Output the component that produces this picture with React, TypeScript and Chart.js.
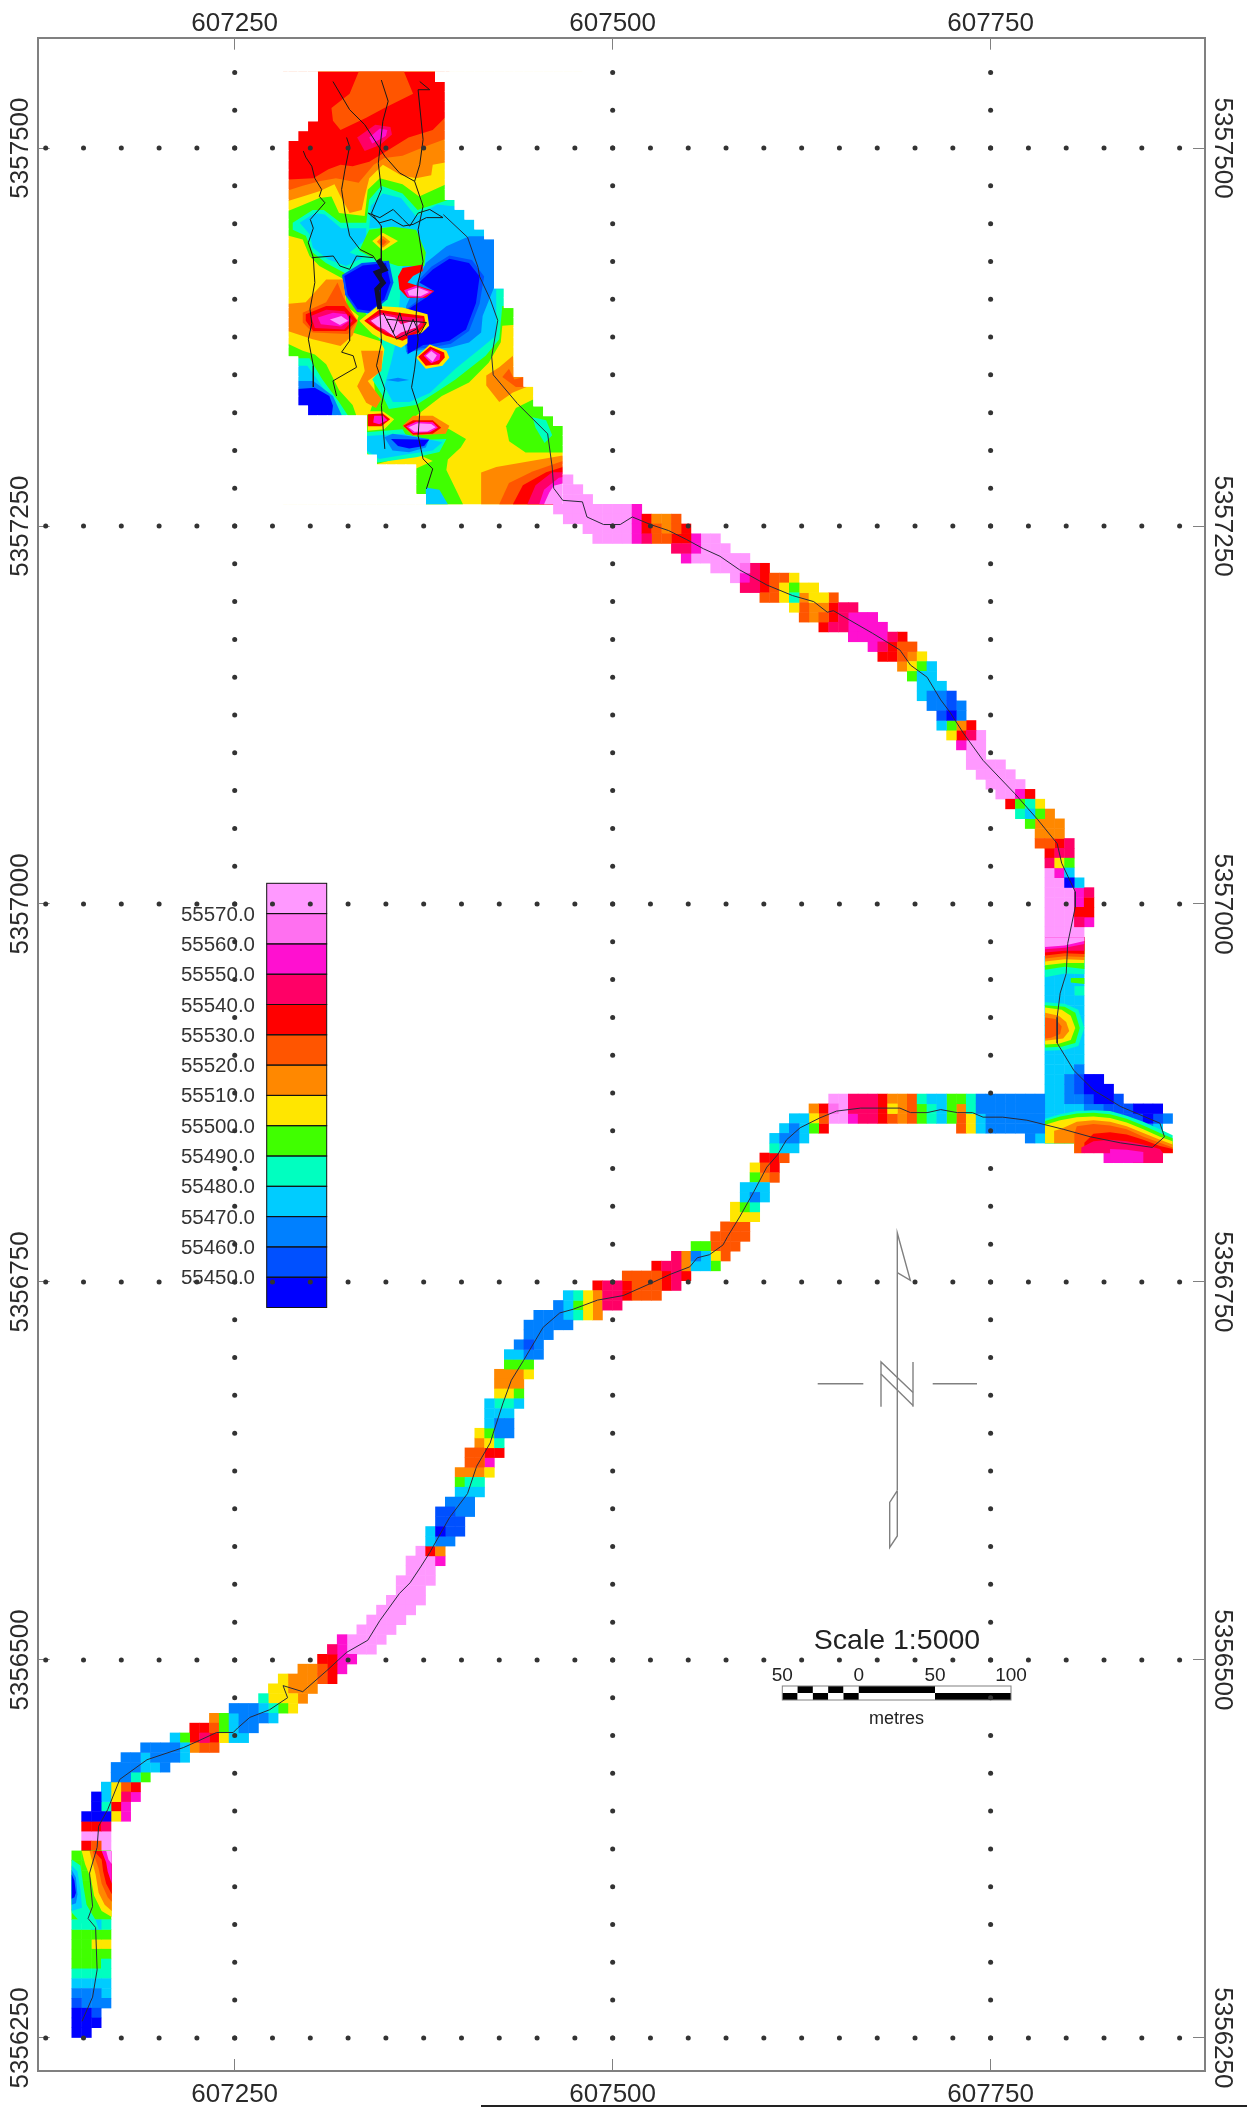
import React, { useEffect, useRef } from "react";
import { Chart, registerables } from "chart.js";

Chart.register(...registerables);

// ---- map frame (easting / northing) ----
const EAST_BASE = 607000;
const NORTH_BASE = 5356000;
const xRange = [607119.7, 607891.8];
const yRange = [5356228.1, 5357573];
const xTickValues = [607250, 607500, 607750];
const yTickValues = [5356250, 5356500, 5356750, 5357000, 5357250, 5357500];

// survey stations: offsets (m) from the bases
const stationEastings = [125,150,175,200,225,250,275,300,325,350,375,400,425,450,475,500,525,550,575,600,625,650,675,700,725,750,775,800,825,850,875];
const stationNorthings = [250,275,300,325,350,375,400,425,450,475,500,525,550,575,600,625,650,675,700,725,750,775,800,825,850,875,900,925,950,975,1000,1025,1050,1075,1100,1125,1150,1175,1200,1225,1250,1275,1300,1325,1350,1375,1400,1425,1450,1475,1500,1525,1550];
const lineEastings = [250, 500, 750];
const lineNorthings = [250, 500, 750, 1000, 1250, 1500];

// ---- colour scale ----
const legendLabels = ["55570.0","55560.0","55550.0","55540.0","55530.0","55520.0","55510.0","55500.0","55490.0","55480.0","55470.0","55460.0","55450.0"];
const legendBands = ["n","m","l","k","j","i","h","g","f","e","d","c","b","a"];
const bandColors: Record<string, string> = {
  a: "#0000FF", b: "#0050FF", c: "#0080FF", d: "#00CCFF", e: "#00FFC0", f: "#40FF00", g: "#FFE600",
  h: "#FF8800", i: "#FF5500", j: "#FF0000", k: "#FF0066", l: "#FF10D0", m: "#FF70F0", n: "#FF99FF",
};

// ---- gridded cells: [row, first column, band per column] ----
const CELL_EAST = 145.47;
const CELL_NORTH = 1547.23;
const CELL_SIZE = 6.5014;

const blockSpans: [number, number][] = [
  [25,36],[25,37],[25,37],[25,37],[25,37],[24,37],[23,37],[22,37],[22,37],[22,37],[22,37],[22,37],[22,37],[22,38],[22,39],[22,40],[22,41],[22,42],[22,42],[22,42],[22,42],[22,42],[22,43],[22,43],[22,44],[22,44],[22,44],[22,44],[22,44],[23,44],[23,44],[23,45],[23,46],[23,46],[24,47],[30,48],[30,49],[30,49],[30,49],[31,49],[35,49],[35,49],[35,49],[36,49],
];

const cellsNorthEast: [number, number, string][] = [
  [41,50,"n"],[42,50,"nn"],[43,50,"nnn"],[44,49,"nnnnnnnnl"],[45,50,"nnnnnnnljhhi"],[46,52,"nnnnnljihij"],
  [47,53,"nnnnlkiijjlnn"],[48,61,"kklnnn"],[49,62,"lnnnnnn"],[50,65,"nnnmkj"],[51,67,"nlkjiig"],[52,68,"kkjigfgg"],
  [53,70,"iigehggi"],[54,73,"gihhjkk"],[55,74,"ihijklll"],[56,76,"jkkllll"],[57,79,"llllkj"],[58,81,"lkjii"],
  [59,82,"jjihg"],[60,84,"hgfd"],[61,85,"fdd"],[62,86,"ddd"],[63,86,"dccb"],[64,87,"ccbc"],[65,88,"bac"],
  [66,88,"dfhj"],[67,89,"gjkn"],[68,90,"lnn"],[69,91,"nn"],[70,91,"nnnn"],[71,92,"nnnn"],[72,93,"nnnn"],
  [73,94,"nnlj"],[74,95,"jfeg"],[75,96,"edfh"],[76,97,"fhhh"],[77,98,"hhh"],[78,98,"iijk"],[79,99,"jkk"],
];
const cellsEast: [number, number, string][] = [
  [80,99,"kgf"],[81,99,"nld"],[82,99,"nnad"],[83,99,"nnnlk"],[84,99,"nnnlj"],[85,99,"nnnjj"],[86,99,"nnnkl"],
  [87,99,"nnnn"],[88,99,"nnnn"],[89,99,"nnnn"],[90,99,"dddd"],[91,99,"dddd"],[92,99,"dddd"],[93,99,"ddde"],
  [94,99,"dddd"],[95,99,"dddd"],[96,99,"dddd"],[97,99,"dddd"],[98,99,"dddd"],[99,99,"dddd"],[100,99,"dddd"],
  [101,99,"dddc"],[102,99,"ddcbaa"],[103,99,"ddcbaaa"],
  [104,77,"nnkkkjhhieddffecccccccddccbaab"],
  [105,75,"hjmnkkkjghifedfhecccccccddddccbbbaaa"],
  [106,73,"ddginnlkkjihifedfigdccccccdddddccbbbabc"],
  [107,72,"dcdfj.............igdccccccdddddddbbbcd"],
  [108,71,"dccd"],[108,97,"cddddddddddddd"],[109,71,"edd"],[109,102,"jkkkkkkkjj"],[110,70,"jji"],[110,105,"lllkkk"],
];
const cellsCentre: [number, number, string][] = [
  [111,69,"gij"],[112,69,"fhi"],[113,68,"ddd"],[114,68,"dcd"],[115,67,"gfe"],[116,67,"ggg"],[117,66,"iii"],
  [118,65,"iiii"],[119,63,"ffiii"],[120,61,"khcdgi"],[121,59,"jkkhddf"],[122,56,"iiiijkj"],[123,53,"jkkjiiijk"],
  [124,50,"deghkkjiii"],[125,49,"cdfghkk"],[126,47,"cccdegh"],[127,46,"ccccc"],[128,46,"ccc"],[129,45,"cbc"],
  [130,44,"ddcc"],[131,44,"fff"],[132,43,"hhhg"],[133,43,"hhh"],[134,43,"ggf"],[135,42,"deed"],[136,42,"ddd"],
  [137,42,"dcc"],[138,41,"gfcc"],[139,41,"hge"],[140,40,"iijj"],[141,40,"iil"],[142,39,"hhhg"],[143,39,"fee"],
  [144,39,"ddd"],[145,38,"ccc"],[146,37,"bbcc"],[147,37,"bbb"],[148,36,"dabb"],[149,36,"dcc"],[150,35,"njh"],
  [151,34,"nnnl"],[152,34,"nnn"],[153,33,"nnnn"],[154,33,"nnn"],[155,32,"nnnn"],[156,31,"nnnn"],[157,30,"nnnn"],
];
const cellsSouthWest: [number, number, string][] = [
  [158,29,"nnnn"],[159,27,"lnnnn"],[160,26,"klnnn"],[161,25,"jjll"],[162,23,"hhijl"],[163,21,"ghhhij"],[164,20,"gghhh"],
  [165,19,"egggh"],[166,16,"cccdefg"],[167,14,"hfdcccd"],[168,12,"jjifdcc"],[169,10,"dfjkjgdd"],[170,7,"ccccdhii"],
  [171,5,"ccdcccd"],[172,4,"cccddc"],[173,4,"ccef"],[174,3,"dgij"],[175,2,"adgkl"],[176,2,"aejl"],[177,1,"aaagl"],
  [178,1,"jjk"],[179,1,"nnn"],[180,1,"jin"],[181,0,"ffff"],[182,0,"ffff"],[183,0,"ffff"],[184,0,"ffff"],[185,0,"ffff"],
  [186,0,"ffff"],[187,0,"ffff"],[188,0,"eede"],[189,0,"ffff"],[190,0,"ffgg"],[191,0,"ffff"],[192,0,"fffe"],[193,0,"eeee"],
  [194,0,"dddd"],[195,0,"cccd"],[196,0,"bccc"],[197,0,"aab"],[198,0,"aaa"],[199,0,"aa"],
];

// ---- contoured block in the north: painter-ordered bands, [east, north] offsets ----
type Pt = [number, number];
const T = 1550.5;
const B = 1264.4;
const northBands: [string, Pt[]][] = [
  ["g", [[282,T],[480,T],[480,B],[282,B]]],
  ["h", [[282,T],[392,T],[392,1491],[381,1489],[380,1482],[370,1480],[360,1482],[348,1489],[339,1480],[336,1468],[334,1459],[326,1457],[320,1468],[316,1476],[306,1471.5],[295,1468],[282,1464]]],
  ["i", [[282,T],[392,T],[392,1507],[376,1501],[361,1495],[349,1493.5],[342,1489],[332,1477],[317,1480],[306,1478],[295,1475],[282,1471]]],
  ["j", [[282,T],[392,T],[392,1523],[381,1512],[365,1507],[349,1497],[339,1491],[328,1488],[320,1489],[312,1486],[302,1480],[282,1479]]],
  ["i", [[332,T],[362,T],[368,1536],[349,1526.5],[337,1520],[320,1512],[315,1518],[314,1526.5],[326,1536]]],
  ["k", [[331,1507],[343,1515.5],[353,1514],[354,1509],[346,1502],[336,1498]]],
  ["l", [[339,1507],[346,1513],[351,1512],[350,1508],[341,1503]]],
  ["f", [[282,1457],[293,1461.5],[306,1467],[314,1468],[319,1457],[336,1455],[338,1472.5],[346,1480],[361,1476],[372,1468],[392,1477],[440,1477],[440,1383.5],[427,1382.5],[426,1371.5],[418,1358],[405,1345],[387,1336],[370,1323],[392,1314],[403,1307.5],[399.5,1302],[391,1294],[390,1287],[401,B],[376,B],[370,1272],[370,1288],[381,1293],[370,1298],[344,1291],[337,1299],[335,1323],[339,1324],[343,1336],[342,1347],[349,1354],[350,1371],[328,1378],[332,1389],[324,1395.6],[322.5,1413],[306,1422],[299.5,1428.6],[295,1439.6],[282,1443]]],
  ["e", [[288.4,1450.6],[301.6,1459],[309,1459],[320,1450.6],[337,1450.6],[339,1466],[347,1475],[361,1470],[371,1459],[392,1466],[440,1466],[440,1395.6],[427,1395.6],[425,1373.6],[416,1362.6],[396,1347],[383,1338.4],[370,1330],[352,1327.4],[348,1336],[341,1347],[347,1354],[349,1367],[345.6,1373.6],[322.5,1417.6],[310.4,1424],[301.6,1431],[297,1442],[288.4,1446]]],
  ["d", [[340,1461.6],[348,1470],[360,1467],[370,1454.7],[384,1462.7],[393,1461.6],[440,1461.6],[440,1406.6],[423,1406.6],[423,1376],[412,1367],[396,1354],[379,1338],[365.6,1332],[354.6,1332],[349,1342.5],[353.4,1358],[357,1373.6],[361,1422],[376,1422],[376,1428.6],[370,1445],[354.6,1448],[339,1447]]],
  ["d", [[293,1450.6],[303,1457],[309.6,1456],[320.4,1447],[337,1447],[337,1439.6],[326,1431],[334.7,1427.5],[323.7,1422],[311.6,1426.4],[301.7,1434],[299.5,1443]]],
  ["f", [[337,1442],[339,1446],[354.6,1448],[370,1446],[376.4,1431],[375.3,1422],[358,1422],[352,1424],[345.6,1425],[332.4,1432]]],
  ["g", [[341,1438.5],[348,1444],[358,1438.5],[348,1432]]],
  ["h", [[344,1438],[348,1442],[353,1438],[348,1434]]],
  ["i", [[346,1438],[348,1440],[350.5,1438],[348,1435.6]]],
  ["c", [[376.4,1424],[390,1435],[405,1441.6],[440,1441.6],[440,1408.6],[421.6,1408],[414,1389],[413,1378],[405,1371.4],[392,1368],[376.4,1367],[363.4,1364.8],[362,1376],[363.4,1395.6]]],
  ["b", [[380,1421.5],[392,1429],[407,1426],[415,1415],[412,1397],[405,1379],[393,1370.5],[379,1368],[364,1367],[363,1393],[376,1403],[382,1407],[372,1413]]],
  ["a", [[381,1419.6],[392,1426.8],[405,1424],[412,1415],[409.6,1397.6],[403,1380],[392,1372.5],[379,1370],[364.3,1369],[364.3,1393],[376.4,1401],[382,1405.5],[372,1411]]],
  ["j", [[358,1415],[361,1420.7],[374.4,1423],[374.4,1418.7],[368,1415.4],[364.3,1411],[382,1405.5],[376.4,1401],[364.3,1401],[359,1406.6]]],
  ["l", [[362,1406],[370,1409],[381,1405],[374,1401],[364.4,1401.6]]],
  ["n", [[364.3,1405.5],[371,1407.7],[378.6,1404.8],[373,1402],[365.4,1402.5]]],
  ["b", [[321,1416],[334,1424],[352,1425.5],[355,1411],[351,1400],[340,1390.5],[331,1391.5],[323,1403]]],
  ["a", [[322.5,1415.4],[334.7,1422.4],[350,1424],[353,1411],[349,1400],[339.5,1392.3],[331.3,1393.4],[324.7,1403]]],
  ["f", [[282,1372],[295,1366],[303,1363.5],[310.5,1357],[319,1340],[328,1330],[331,1321.5],[282,1321.5]]],
  ["e", [[282,1361],[299.5,1361],[308,1347],[319,1332],[326,1321.5],[282,1321.5]]],
  ["d", [[282,1356],[298,1356],[306,1345],[314,1333],[322,1321.5],[282,1321.5]]],
  ["c", [[282,1346],[302,1346],[315,1336],[321.6,1321.5],[282,1321.5]]],
  ["a", [[282,1340],[303,1341.5],[312.6,1336],[315,1329.6],[314,1321.5],[282,1321.5]]],
  ["h", [[333.6,1366],[348,1366],[347,1352.5],[338,1346],[347,1334],[343.5,1328],[337,1331.5],[331,1342.5],[336,1352.5]]],
  ["h", [[282,1396.7],[297,1398],[310.5,1413],[321.5,1413],[324,1395.6],[331.6,1385.7],[328,1376],[320,1369],[301.6,1373.6],[282,1380]]],
  ["i", [[295,1391],[310.5,1398],[318,1411],[322,1401],[331,1385.7],[325,1377],[301.6,1378],[295,1384.6]]],
  ["j", [[297,1390],[310.5,1395.6],[322.5,1395.6],[331,1385.7],[323.6,1379],[302,1379],[297,1385.7]]],
  ["k", [[300.5,1389],[310.5,1393],[322.5,1392],[328,1385.7],[322.5,1380],[303,1381]]],
  ["l", [[305,1388],[315,1391],[324,1390],[326,1385.7],[320.4,1382],[307,1383.5]]],
  ["n", [[313,1386.6],[320.5,1389],[325,1385.7],[319.6,1383]]],
  ["g", [[332.4,1385.7],[344.5,1395.6],[361,1394.5],[377.5,1390],[378.6,1382.4],[372,1376],[360,1368],[349,1372.5],[341,1377]]],
  ["j", [[335.7,1385.7],[345.6,1393],[359,1391],[375.3,1389],[376.4,1383.5],[372,1378],[361,1372.5],[350,1376],[343.4,1380]]],
  ["k", [[338,1385.7],[347,1391],[359,1389],[374.4,1387.2],[374.4,1382.8],[370,1379],[360,1374.7],[350,1378],[344.6,1381.3]]],
  ["n", [[340,1385.7],[347,1389.7],[356,1388],[360,1383.5],[368,1385.7],[373,1384.6],[370,1381.3],[360,1378],[356,1375],[349,1380],[344.6,1382]]],
  ["a", [[364.3,1376],[376.4,1378],[377.5,1371.4],[370,1367],[364.3,1363.6]]],
  ["g", [[370,1361.5],[379,1370],[390,1366],[392,1361.5],[387.4,1356],[376.4,1354]]],
  ["j", [[371.4,1362],[379.3,1368.8],[388.5,1364.8],[389,1361.5],[385,1357],[376.4,1356]]],
  ["l", [[375,1362.6],[380,1367],[386,1363.7],[385.5,1360],[380,1357.6]]],
  ["n", [[376.4,1362.6],[380,1365.7],[383.7,1363],[381,1358.6]]],
  ["e", [[337,1312],[361,1314],[365.4,1306.5],[390,1307.6],[385.4,1299],[370,1295.5],[344.5,1292],[337,1298.8]]],
  ["d", [[337.2,1309.6],[361,1311],[387.4,1305.4],[381,1300],[365.4,1297.7],[345.6,1294.4],[337.2,1300]]],
  ["c", [[349,1308.7],[354.4,1311],[378.6,1307.6],[376.4,1302],[365.4,1298.8],[354.4,1300]]],
  ["a", [[353.4,1307.6],[378.6,1307],[375.3,1303],[365.4,1301.2],[358,1303]]],
  ["g", [[338,1326],[348,1326],[355.5,1320.6],[349,1314],[338,1313]]],
  ["j", [[338,1324],[348,1324.5],[352.8,1320.6],[347,1316],[338,1316]]],
  ["l", [[342.3,1323],[348,1323],[351,1320],[345.6,1317.3],[341.6,1318.4]]],
  ["h", [[368,1323],[381,1323],[392,1316.4],[389.6,1311],[368,1309.8],[361,1316.4]]],
  ["j", [[361.4,1316.4],[368,1320],[381,1320],[386.6,1315],[381,1311],[368,1310.3]]],
  ["l", [[363.4,1316],[370,1319],[381,1318.6],[384.4,1315],[379,1312],[368,1311.6]]],
  ["n", [[365,1315.3],[371,1318],[380,1317.5],[383,1315.3],[377.5,1312.6],[369,1312.3]]],
  ["c", [[350,1346.6],[358,1348],[365.4,1346.6],[358,1345.4]]],
  ["d", [[376.4,B],[376.4,1275.5],[385.4,1274],[391,B]]],
  ["f", [[447,1333.5],[436,1328],[429.5,1316],[431.5,1306],[442.4,1298.6],[470,1298.6],[470,1322],[453.6,1332]]],
  ["e", [[447,1322],[456,1320],[460,1310],[455,1305],[449,1315]]],
  ["h", [[434,1362.6],[435,1349.6],[443,1348.6],[443,1342],[434,1338.4],[425,1332],[416.4,1343],[416.4,1349.6],[425,1355]]],
  ["i", [[431.4,1354],[435,1347],[441.4,1348.6],[441.4,1342],[436,1342],[427,1348.6]]],
  ["h", [[413,B],[413,1285.4],[423,1289],[467,1296.6],[470,B]]],
  ["i", [[425,B],[431.4,1278.4],[447,1286],[467,1293],[470,B]]],
  ["j", [[434,B],[440.6,1277],[456,1285.6],[467,1289],[470,B]]],
  ["k", [[443.6,B],[449,1277],[460,1285.6],[470,1285.6],[470,B]]],
  ["l", [[451.4,B],[454.6,1274],[464.4,1282],[470,1283],[470,B]]],
  ["n", [[454.6,B],[458,1272],[461,1276.6],[470,1279],[470,B]]],
];

// contoured bands over the wider parts of the eastern and south-western legs
const eastBands: [string, Pt[]][] = [
  ["e", [[786,978],[812,978],[812,953.5],[799,954],[786,951.5]]],
  ["f", [[786,978],[812,978],[812,957],[799,958.5],[786,956.5]]],
  ["g", [[786,978],[812,978],[812,961],[799,961],[786,959.5]]],
  ["h", [[786,978],[812,978],[812,963],[799,963.5],[786,962]]],
  ["i", [[786,978],[812,978],[812,965],[799,965.5],[786,964]]],
  ["j", [[786,978],[812,978],[812,967],[799,967.5],[786,966]]],
  ["k", [[786,978],[812,978],[812,969],[799,969],[786,968]]],
  ["l", [[786,978],[812,978],[812,973.5],[799,971],[786,970]]],
  ["n", [[786,978],[812,978],[812,975.5],[799,972.5],[786,971.5]]],
  ["f", [[803,951],[812,951],[812,947],[803,948]]],
  ["e", [[786,935],[799,934],[808,930],[812,918],[808,906],[799,903.5],[786,903]]],
  ["f", [[786,933],[799,932],[806,928],[809,918],[806,908],[797,905.5],[786,905]]],
  ["g", [[786,931.5],[797,930],[803,926],[806,918],[803,910],[795,907.5],[786,907]]],
  ["h", [[786,928],[795,926],[800,922],[802,916],[798,911],[786,909.5]]],
  ["i", [[786,925],[793,924],[797,919],[796,914],[790,911.5],[786,911]]],
];
const eastArchBands: [string, Pt[]][] = [
  ["e", [[786,858],[796,861],[807,863],[818,863.5],[829,863],[840,860],[851,856],[862,851],[870.4,847],[870.4,835.3],[805.4,835.3],[805.4,841.8],[786,841.8]]],
  ["f", [[786,856.5],[796,859.5],[807,861.5],[818,862],[829,861],[840,858],[851,853.5],[862,848.5],[870.4,845],[870.4,835.3],[805.4,835.3],[805.4,841.8],[786,841.8]]],
  ["g", [[786,854],[796,857],[807,859],[818,859.5],[829,858.5],[840,855.5],[851,851],[862,846],[870.4,843],[870.4,835.3],[805.4,835.3],[805.4,841.8],[786,841.8]]],
  ["h", [[792,850],[796,851],[807,856],[818,857],[829,856],[840,853],[851,848.5],[862,844],[870.4,841],[870.4,835.3],[805.4,835.3],[805.4,841.8],[792,841.8]]],
  ["i", [[805.4,848],[807,853],[818,854.5],[829,853.5],[840,851],[851,846],[862,842],[870.4,839],[870.4,835.3],[805.4,835.3]]],
  ["j", [[812,842],[818,848],[829,849],[840,847.5],[851,844],[862,840],[870.4,838],[870.4,835.3],[812,835.3]]],
  ["k", [[810,839],[818,843],[829,844],[840,843],[851,841],[862,838],[864,835.3],[810,835.3]]],
  ["l", [[829,838],[840,837.5],[851,836],[851,828.8],[829,828.8]]],
];
const southWestBands: [string, Pt[]][] = [
  ["e", [[142.2,368],[148,364],[150,350],[152,338],[158,328],[160,322],[152,322],[142.2,333]]],
  ["d", [[142.2,364],[146,360],[148,348],[149,336],[142.2,334]]],
  ["c", [[142.2,361],[145,356],[146,345],[145,339],[142.2,338]]],
  ["a", [[142.2,358],[144,354],[145,346],[144,343],[142.2,342]]],
  ["g", [[148.8,373.6],[168.7,373.6],[168.7,330],[162,334],[157,344],[155,355],[151,365]]],
  ["h", [[154,373.6],[168.7,373.6],[168.7,334],[164,338],[160,346],[158,358]]],
  ["i", [[156,373.6],[168.7,373.6],[168.7,340],[166,343],[162,352],[160,362]]],
  ["j", [[157,373.6],[168.7,373.6],[168.7,345],[165,352],[163,360],[162,368]]],
  ["l", [[162,373.6],[168.7,373.6],[168.7,352],[166,360],[165,366]]],
  ["n", [[165,373.6],[168.7,373.6],[168.7,365],[166.5,368]]],
];

// ---- survey traverses ----
const mainTrack: Pt[] = [
  [388,1456],[404,1441],[411,1421],[412,1415],[419,1400],[424,1386],[420,1362],[421,1350],[437,1331],[457,1311],[460,1289],[461,1275],[467,1267],[480,1266],[483,1256],[494,1251],[505,1251],[513,1256],[525,1251],[537,1247],[549,1241],[560,1235],[571,1230],[584,1221],[602,1211],[619,1204],[633,1200],[642,1193],[646,1194],[672,1179],[690,1168],[697,1158],[708,1150],[717,1135],[723,1127],[732,1113],[745,1095],[766,1073],[781,1056],[794,1040],[797,1027],[806,1008],[806,998],[801,974],[800,954],[796,941],[794,925],[794,908],[805,890],[818,877],[836,866],[862,855],[865,846],[857,839],[836,842],[816,846],[798,851],[774,857],[758,859],[745,859],[738,862],[728,862],[717,864],[708,862],[697,862],[690,865],[664,865],[648,863],[637,858.5],[624,852],[615,844],[609,834],[602,826],[593,809],[584,793],[576,780],[573,774.5],[564,768],[556,766],[551,760],[538,755],[525,749],[507,741],[490,738],[474,732],[465,729.5],[454,720],[441,698],[433,685],[427.5,670],[421,650],[419,643.5],[410,628],[404,610],[392,594],[379,571],[373,561.5],[366,551],[359,544],[346,526],[338,513],[324,505],[311,493],[295,479],[282,483],[285,475],[273,467],[260,462],[252,455],[249,452],[238,452],[225,446],[216,442],[192,434],[174,421],[166,401],[160,390],[159,376],[154,359],[156,337],[153,329],[158,323],[159,295],[156,277],[149,261],
];
const northLines: Pt[][] = [
  [[295.4,1498],[297,1494],[301,1488],[303,1480],[307.5,1472.6],[306,1468],[309.7,1463.8],[300,1452.8],[302,1447],[298.7,1437.4],[302,1427.5],[303,1411],[299.8,1393.4],[301,1384],[298.7,1373.6],[302,1356],[302,1342]],
  [[324,1507],[326,1501],[323,1486],[320.7,1472.6],[323,1457],[326,1442],[332.8,1433],[341.6,1428.6],[347,1420],[346,1406.6]],
  [[326,1389],[326,1372.5],[320.7,1365],[328.4,1362.6],[330.6,1355],[315,1346],[317.4,1336]],
  [[347,1545],[351.5,1531],[348,1517.7],[345,1490],[347,1472.6],[340.5,1457],[347,1448.4],[347,1422],[346,1393.4],[347,1373.6],[347,1371],[343.8,1356],[349.3,1340.6],[347,1329.6],[349.3,1301]],
  [[315,1544],[326,1525.4],[336,1515.5],[349.3,1494.6],[359,1483.6],[369,1478],[374.6,1461.6],[371.3,1446],[374.6,1425],[371.3,1411],[370,1389],[371.3,1373.6],[369,1353.8],[367,1341.7],[372.4,1325],[371.3,1309.8],[374.6,1294.4],[381,1287.8],[376.8,1274.6]],
  [[372.4,1544],[379,1538.6],[371.3,1538.6],[374.6,1505.6],[372.4,1489],[369,1478]],
  [[338.3,1457],[346,1454],[354.8,1459.4],[361.4,1452.8],[365.8,1448.4],[371.3,1457],[379,1459.4],[387.8,1454],[376.8,1454],[368,1449.5],[361.4,1448.4],[353.7,1452.8],[346,1450.6],[338.3,1457]],
  [[301,1427.5],[315.2,1428.6],[319.6,1422],[326,1419.8],[330.6,1428.6],[341.6,1427.5]],
  [[348.2,1391],[354.8,1378],[359.2,1391],[363.6,1375.8],[368,1386.8],[372.4,1376.9],[376.8,1384.6],[350.4,1386.8],[357,1373.6],[370.2,1380.2]],
];
const denseLine: Pt[] = [[345,1426.4],[349.3,1419.8],[343.8,1417.6],[348.2,1411],[344,1406.6],[346,1393.4]];

// ---- map furniture labels ----
const scaleTitle = "Scale 1:5000";
const scaleUnits = "metres";
const scaleLabels = ["50", "0", "50", "100"];
const FONT = '"Liberation Sans", Arial, sans-serif';

const furniture = {
  id: "furniture",
  beforeDatasetsDraw(chart: Chart) {
    const ctx = chart.ctx;
    ctx.save();
    // colour scale
    legendBands.forEach((b, i) => {
      ctx.fillStyle = bandColors[b];
      ctx.fillRect(266.7, 883.3 + 30.3 * i, 60, 30.3);
    });
    ctx.strokeStyle = "#111";
    ctx.lineWidth = 1;
    legendBands.forEach((_, i) => ctx.strokeRect(266.7, 883.3 + 30.3 * i, 60, 30.3));
    ctx.fillStyle = "#333";
    ctx.font = `20.5px ${FONT}`;
    ctx.textAlign = "right";
    ctx.textBaseline = "middle";
    legendLabels.forEach((t, i) => ctx.fillText(t, 255, 915 + 30.3 * i));
    // north arrow
    ctx.strokeStyle = "#808080";
    ctx.lineWidth = 1.4;
    const paths = [
      [[897.3,1490.6],[897.3,1233],[910.3,1280.3],[897.3,1272.6]],
      [[817.7,1383.7],[863.3,1383.7]],
      [[932.7,1383.7],[977,1383.7]],
      [[881,1406.8],[881,1362],[913,1392.6]],
      [[881,1374],[913,1405.4]],
      [[913,1362],[913,1406.8]],
      [[897.3,1490.6],[889.7,1502.4],[889.7,1547.4],[897.3,1536],[897.3,1490.6]],
    ];
    paths.forEach((p) => {
      ctx.beginPath();
      p.forEach(([x, y], i) => (i ? ctx.lineTo(x, y) : ctx.moveTo(x, y)));
      ctx.stroke();
    });
    // scale bar
    ctx.textAlign = "center";
    ctx.textBaseline = "alphabetic";
    ctx.fillStyle = "#222";
    ctx.font = `28.5px ${FONT}`;
    ctx.fillText(scaleTitle, 897, 1648.9);
    ctx.font = `19px ${FONT}`;
    [782.3, 858.8, 935, 1011].forEach((x, i) => ctx.fillText(scaleLabels[i], x, 1680.6));
    ctx.font = `18px ${FONT}`;
    ctx.fillText(scaleUnits, 896.5, 1724.2);
    const edges = [782.3, 797.6, 812.9, 828.2, 843.5, 858.8, 935, 1011];
    for (let i = 0; i < edges.length - 1; i++) {
      const topBlack = i === 1 || i === 3 || i === 5;
      ctx.fillStyle = topBlack ? "#000" : "#fff";
      ctx.fillRect(edges[i], 1686, edges[i + 1] - edges[i], 7);
      ctx.fillStyle = topBlack ? "#fff" : "#000";
      ctx.fillRect(edges[i], 1693, edges[i + 1] - edges[i], 7);
    }
    ctx.strokeStyle = "#808080";
    ctx.lineWidth = 1;
    ctx.strokeRect(782.3, 1686, 228.7, 14);
    // rule at page foot
    ctx.fillStyle = "#222";
    ctx.fillRect(481, 2105, 766, 2);
    ctx.restore();
  },
};

const axisColor = "#808080";
const tickFont = { family: FONT, size: 26 };

function xAxis(position: string, padding: number, fit: number) {
  return {
    type: "linear", position, min: xRange[0], max: xRange[1],
    afterBuildTicks: (s: any) => { s.ticks = xTickValues.map((value) => ({ value })); },
    afterFit: (s: any) => { s.height = fit; },
    ticks: { callback: (v: any) => String(v), font: tickFont, color: "#2a2a2a", padding, autoSkip: false, minRotation: 0, maxRotation: 0 },
    grid: { drawOnChartArea: false, drawTicks: true, tickLength: -12, tickColor: axisColor, tickWidth: 1 },
    border: { display: true, color: axisColor, width: 2 },
  };
}
function yAxis(position: string, rotation: number, padding: number, fit: number) {
  return {
    type: "linear", position, min: yRange[0], max: yRange[1],
    afterBuildTicks: (s: any) => { s.ticks = yTickValues.map((value) => ({ value })); },
    afterFit: (s: any) => { s.width = fit; },
    ticks: { callback: (v: any) => String(v), font: tickFont, color: "#2a2a2a", padding, autoSkip: false, minRotation: rotation, maxRotation: rotation, crossAlign: "center" },
    grid: { drawOnChartArea: false, drawTicks: true, tickLength: -12, tickColor: axisColor, tickWidth: 1 },
    border: { display: true, color: axisColor, width: 2 },
  };
}

function buildDatasets() {
  const sets: any[] = [];
  const east = (e: number) => EAST_BASE + e;
  const north = (n: number) => NORTH_BASE + n;
  const asXY = (pts: Pt[]) => pts.map(([e, n]) => ({ x: east(e), y: north(n) }));
  const cellX = (c: number) => east(CELL_EAST + CELL_SIZE * c);
  const cellY = (r: number) => north(CELL_NORTH - CELL_SIZE * r);
  const addBands = (bands: [string, Pt[]][]) => bands.forEach(([band, pts]) => {
    sets.push({ data: asXY(pts), showLine: true, fill: "shape", backgroundColor: bandColors[band], borderWidth: 0, pointRadius: 0 });
  });

  addBands(northBands);

  // trim the contoured bands to the stepped edge of the surveyed block
  const trim: { x: number; y: number }[] = [];
  blockSpans.forEach(([left, right], r) => {
    for (let c = 18; c < left; c++) trim.push({ x: cellX(c), y: cellY(r) });
    for (let c = right + 1; c <= 56; c++) trim.push({ x: cellX(c), y: cellY(r) });
  });
  const trimStyle = { data: trim, pointStyle: "rect", pointRadius: 7.5, pointBorderWidth: 0, pointBackgroundColor: "#fff", showLine: false };
  sets.push({ ...trimStyle });
  sets.push({ ...trimStyle });

  const groups: Record<string, { x: number; y: number }[]> = {};
  [...cellsNorthEast, ...cellsEast, ...cellsCentre, ...cellsSouthWest].forEach(([r, start, bands]) => {
    [...bands].forEach((b, i) => {
      if (b === ".") return;
      (groups[b] = groups[b] || []).push({ x: cellX(start + i), y: cellY(r) });
    });
  });
  Object.keys(groups).forEach((b) => {
    sets.push({ data: groups[b], pointStyle: "rect", pointRadius: 7.3, pointBorderWidth: 0, pointBackgroundColor: bandColors[b], showLine: false });
  });

  addBands(eastBands);
  addBands(eastArchBands);
  addBands(southWestBands);

  const lineStyle = { showLine: true, fill: false, borderColor: "#1a1a1a", borderWidth: 1, pointRadius: 0 };
  northLines.forEach((l) => sets.push({ data: asXY(l), ...lineStyle }));
  sets.push({ data: asXY(denseLine), ...lineStyle, borderWidth: 5, borderColor: "#101030" });
  sets.push({ data: asXY(mainTrack), ...lineStyle, borderColor: "#2a2a3a" });

  const stations: { x: number; y: number }[] = [];
  lineNorthings.forEach((n) => stationEastings.forEach((e) => stations.push({ x: east(e), y: north(n) })));
  lineEastings.forEach((e) => stationNorthings.forEach((n) => stations.push({ x: east(e), y: north(n) })));
  sets.push({ data: stations, pointStyle: "circle", pointRadius: 2.5, pointBorderWidth: 0, pointBackgroundColor: "#333", showLine: false });

  sets.forEach((s, i) => { s.order = sets.length - i; s.clip = false; });
  return sets;
}

export default function App() {
  const ref = useRef<HTMLCanvasElement | null>(null);
  useEffect(() => {
    if (!ref.current) return;
    const chart = new Chart(ref.current, {
      type: "scatter",
      data: { datasets: buildDatasets() },
      options: {
        animation: false,
        responsive: false,
        devicePixelRatio: 1,
        events: [],
        layout: { padding: 0 },
        plugins: { legend: { display: false }, tooltip: { enabled: false }, title: { display: false } },
        scales: {
          x: xAxis("bottom", 20, 37),
          xTop: xAxis("top", 10, 37.7),
          y: yAxis("left", 90, -22, 37.7),
          yRight: yAxis("right", 270, -21, 42),
        },
      } as any,
      plugins: [furniture],
    } as any);
    return () => chart.destroy();
  }, []);
  return (
    <div style={{ position: "absolute", left: 0, top: 0, width: 1247, height: 2108, overflow: "hidden", background: "#fff" }}>
      <canvas ref={ref} width={1247} height={2108} style={{ display: "block" }} />
    </div>
  );
}
